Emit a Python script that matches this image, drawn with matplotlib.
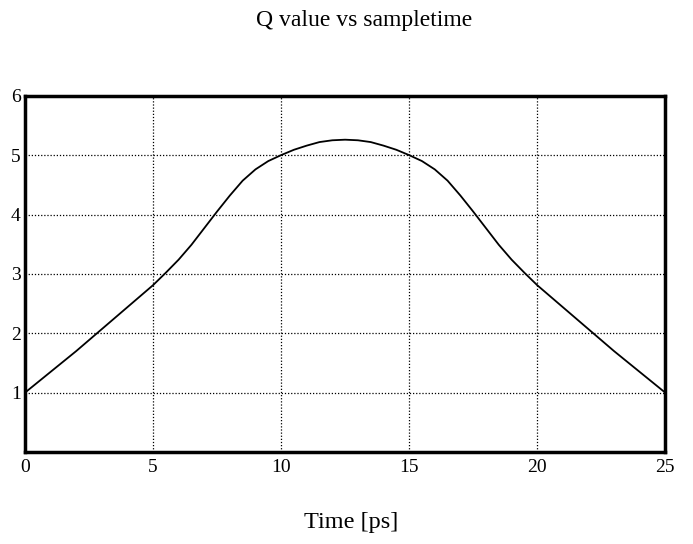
import numpy as np
import matplotlib
matplotlib.use("Agg")
import matplotlib.pyplot as plt

# Q value vs sample time
t = [0, 1, 2, 3, 4, 5, 5.5, 6, 6.5, 7, 7.5, 8, 8.5, 9, 9.5, 10, 10.5, 11, 11.5, 12, 12.5,
     13, 13.5, 14, 14.5, 15, 15.5, 16, 16.5, 17, 17.5, 18, 18.5, 19, 19.5, 20, 21, 22, 23, 24, 25]
q = [1.00, 1.35, 1.70, 2.07, 2.44, 2.81, 3.02, 3.24, 3.49, 3.77, 4.05, 4.32, 4.57, 4.76, 4.90, 5.00,
     5.09, 5.16, 5.22, 5.25, 5.26,
     5.25, 5.22, 5.16, 5.09, 5.00, 4.90, 4.76, 4.57, 4.32, 4.05, 3.77, 3.49, 3.24, 3.02, 2.81,
     2.44, 2.07, 1.70, 1.35, 1.00]

xticks = [0, 5, 10, 15, 20, 25]
yticks = [1, 2, 3, 4, 5, 6]

plt.rcParams['font.family'] = ['Liberation Serif', 'DejaVu Serif']

fig = plt.figure(figsize=(6.93, 5.44), dpi=100)
ax = fig.add_axes([0.036, 0.169, 0.924, 0.655])

ax.plot(t, q, color="black", lw=1.3)

ax.set_xlim(0, 25)
ax.set_ylim(0, 6)
ax.set_xticks(xticks)
ax.set_yticks(yticks)
ax.tick_params(length=0, labelsize=14, colors="black")
ax.tick_params(axis="x", pad=5)
ax.tick_params(axis="y", pad=3)
ax.grid(True, color="black", linestyle=(0, (1, 1.5)), linewidth=0.9)

for s in ax.spines.values():
    s.set_linewidth(2.5)
    s.set_color("black")

fig.text(0.525, 0.962, "Q value vs sampletime", ha="center", va="center", fontsize=17)
fig.text(0.507, 0.04, "Time [ps]", ha="center", va="center", fontsize=17.5)

fig.savefig("out.png", dpi=100)
